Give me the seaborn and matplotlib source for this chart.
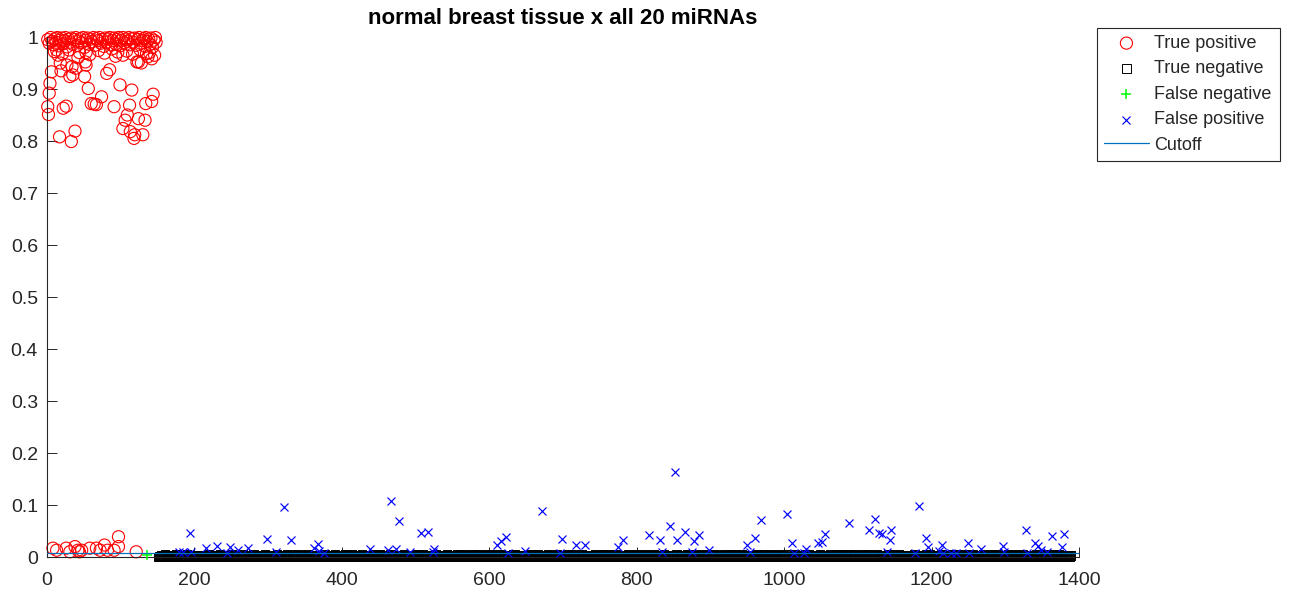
import numpy as np
import pandas as pd
import matplotlib
matplotlib.use("Agg")
import matplotlib.pyplot as plt
import seaborn as sns

# ---- chart text ----
title = "normal breast tissue x all 20 miRNAs"
legend_labels = ["True positive", "True negative", "False negative", "False positive", "Cutoff"]
x_ticks = [0, 200, 400, 600, 800, 1000, 1200, 1400]
y_ticks = [0, 0.1, 0.2, 0.3, 0.4, 0.5, 0.6, 0.7, 0.8, 0.9, 1.0]
y_tick_labels = ["0", "0.1", "0.2", "0.3", "0.4", "0.5", "0.6", "0.7", "0.8", "0.9", "1"]

# ---- true positives (positive samples, indices 1..150) ----
tp_idx = [
    # dense band near 1
    1, 3, 5, 7, 9, 11, 12, 14, 16, 18, 20, 22, 24, 25, 27, 29, 31, 33, 35, 37,
    39, 41, 43, 45, 47, 49, 51, 53, 55, 57, 59, 61, 63, 65, 67, 69, 71, 73, 75, 77,
    79, 81, 83, 85, 87, 89, 91, 93, 95, 97, 99, 101, 103, 105, 107, 109, 111, 113, 115, 117,
    119, 121, 123, 125, 127, 129, 131, 133, 134, 136, 138, 140, 141, 143, 145, 147, 148,
    10, 21, 30, 44, 58, 70, 78, 88, 96, 108, 116, 126, 139, 146,
    # scattered below the band
    6, 4, 3, 1, 2, 17, 33, 38, 22, 26, 19, 31, 35, 27, 39, 51, 56, 53, 60, 64,
    67, 74, 81, 85, 91, 99, 115, 112, 106, 109, 103, 113, 119, 124, 133, 130, 118, 134, 142, 144,
    124, 128, 137, 142, 103, 93, 42, 15, 13, 53, 34, 18, 52, 122, 135,
    # low-scoring positives above the cutoff
    8, 13, 26, 31, 38, 42, 44, 47, 58, 67, 72, 78, 82, 91, 97, 97, 121,
]
tp_score = [
    0.995, 0.988, 0.999, 0.992, 0.985, 0.997, 0.990, 0.999, 0.983, 0.994,
    0.998, 0.987, 0.993, 0.999, 0.981, 0.996, 0.990, 0.998, 0.986, 0.995,
    0.999, 0.984, 0.992, 0.997, 0.989, 0.999, 0.980, 0.994, 0.998, 0.986,
    0.996, 0.991, 0.999, 0.984, 0.997, 0.993, 0.999, 0.988, 0.995, 0.982,
    0.998, 0.990, 0.996, 0.999, 0.985, 0.993, 0.998, 0.987, 0.995, 0.999,
    0.983, 0.994, 0.999, 0.989, 0.996, 0.992, 0.999, 0.985, 0.997, 0.990,
    0.998, 0.984, 0.995, 0.999, 0.988, 0.993, 0.997, 0.982, 0.999, 0.991,
    0.996, 0.986, 0.998, 0.980, 0.994, 0.999, 0.990,
    0.972, 0.968, 0.975, 0.970, 0.966, 0.974, 0.969, 0.977, 0.971, 0.973,
    0.967, 0.976, 0.970, 0.965,
    0.933, 0.911, 0.892, 0.866, 0.851, 0.808, 0.799, 0.819, 0.863, 0.867,
    0.935, 0.924, 0.927, 0.946, 0.940, 0.924, 0.901, 0.946, 0.872, 0.871,
    0.870, 0.885, 0.930, 0.937, 0.866, 0.908, 0.898, 0.869, 0.840, 0.850,
    0.824, 0.818, 0.812, 0.843, 0.840, 0.812, 0.805, 0.872, 0.876, 0.890,
    0.952, 0.950, 0.962, 0.958, 0.965, 0.963, 0.960, 0.965, 0.975, 0.970,
    0.943, 0.950, 0.952, 0.952, 0.968,
    0.017, 0.013, 0.017, 0.010, 0.020, 0.013, 0.010, 0.013, 0.017, 0.017,
    0.013, 0.023, 0.013, 0.013, 0.039, 0.020, 0.010,
]

# ---- false negative ----
fn_idx = [135]
fn_score = [0.004]

# ---- false positives (negative samples scored above the cutoff) ----
fp_idx = [
    179, 185, 194, 196, 216, 231, 244, 248, 259, 272,
    299, 310, 321, 331, 362, 367, 369, 376, 438, 463,
    467, 474, 477, 493, 508, 517, 523, 525, 610, 616,
    622, 625, 648, 671, 696, 699, 718, 730, 774, 782,
    816, 832, 834, 845, 852, 855, 866, 875, 878, 884,
    898, 950, 954, 961, 968, 1004, 1010, 1013, 1027, 1030,
    1046, 1051, 1055, 1088, 1115, 1123, 1129, 1133, 1145, 1143,
    1140, 1178, 1183, 1192, 1195, 1210, 1214, 1216, 1226, 1233,
    1249, 1251, 1267, 1297, 1298, 1328, 1330, 1340, 1345, 1348,
    1357, 1364, 1377, 1380,
]
fp_score = [
    0.010, 0.010, 0.047, 0.010, 0.017, 0.021, 0.008, 0.019, 0.013, 0.017,
    0.034, 0.010, 0.096, 0.033, 0.017, 0.025, 0.012, 0.008, 0.015, 0.013,
    0.108, 0.015, 0.070, 0.010, 0.047, 0.049, 0.010, 0.015, 0.024, 0.031,
    0.039, 0.008, 0.012, 0.088, 0.008, 0.034, 0.024, 0.023, 0.020, 0.033,
    0.042, 0.033, 0.009, 0.060, 0.163, 0.033, 0.049, 0.009, 0.031, 0.042,
    0.013, 0.023, 0.010, 0.036, 0.072, 0.082, 0.026, 0.008, 0.008, 0.015,
    0.026, 0.028, 0.044, 0.065, 0.052, 0.074, 0.047, 0.044, 0.052, 0.033,
    0.009, 0.008, 0.099, 0.036, 0.020, 0.012, 0.024, 0.008, 0.008, 0.008,
    0.026, 0.008, 0.015, 0.022, 0.009, 0.052, 0.008, 0.026, 0.022, 0.013,
    0.010, 0.041, 0.020, 0.044,
]

# ---- true negatives: scores in thousandths, one digit per sample ----
tn_score_milli = "".join([
    "0120310245 0031201030 2104620130 2010310502 1030120301",
    "3201042103 0120530210 4010230162 0301240103 2051031020",
    "1030260130 2401031205 0210340120 3102051032 0140210306",
    "2013041020 3150201304 1020631024 0130210520 3014201032",
    "0410230150 1203402103 0251030142 0310260410 2030150213",
    "1402031052 0130240310 2061023014 0250130410 3021502031",
    "3010420130 5201340210 3104201602 1030520140 2013042051",
    "0240130310 2401520130 4102310260 1340210530 1024013052",
    "2031040250 1302140310 5201360120 4013052010 3240130215",
    "1050230140 2310420103 0261304210 3052010432 0130250413",
    "0320140520 1031024016 2030140253 1024031050 2130402103",
    "4010250130 2140310520 1360210403 1025014032 0310240162",
    "0130420315 0240130210 5301240130 2610240130 4205130210",
    "2041030152 0310240130 6201350210 4130250140 3021405301",
    "1030520140 2301402510 3140260130 2510340120 5302140310",
    "3120410250 1304201630 2140530210 3041025013 0240310520",
    "0210350140 2013042061 3025014032 1040210530 1304203150",
    "2140302510 3012406130 2150403120 5014032010 2630140215",
    "1032014052 0230140310 2501360214 0320510430 2103024013",
    "4120350130 2140310260 1503240120 3104205130 2410320150",
    "0310240153 1204301620 3105024013 2041035021 0340120530",
    "2013052014 0320140361 2031402510 3024013052 1040230140",
    "3105024013 0230150420 1360240130 5201402310 21403",
]).replace(" ", "")
negative_start = 151

cutoff = 0.007
cutoff_x = [0, 1400]

# ---- assemble tables ----
tn_score = [int(c) / 1000 for c in tn_score_milli]
n_negative = len(tn_score) + len(fp_idx)
negative_idx = np.arange(negative_start, negative_start + n_negative)
tn_idx = np.setdiff1d(negative_idx, fp_idx)[: len(tn_score)]

tp = pd.DataFrame({"sample": tp_idx, "score": tp_score})
tn = pd.DataFrame({"sample": tn_idx, "score": tn_score[: len(tn_idx)]})
fn = pd.DataFrame({"sample": fn_idx, "score": fn_score})
fp = pd.DataFrame({"sample": fp_idx, "score": fp_score})
cut = pd.DataFrame({"sample": cutoff_x, "score": [cutoff, cutoff]})

# ---- figure ----
sns.set_theme(style="white")
plt.rcParams["font.family"] = ["Liberation Sans", "DejaVu Sans"]

W, H = 1291, 597
fig = plt.figure(figsize=(W / 100, H / 100), dpi=100)
ax = fig.add_axes([47 / W, 40 / H, 1032 / W, 520 / H])

sns.scatterplot(data=tp, x="sample", y="score", marker="o", s=76,
                color="#FF0000", facecolor="none", edgecolor="#FF0000",
                linewidth=0.8, label=legend_labels[0], clip_on=False, ax=ax,
                legend=False, zorder=2)
sns.scatterplot(data=tn, x="sample", y="score", marker="s", s=37,
                color="black", facecolor="none", edgecolor="black",
                linewidth=0.7, label=legend_labels[1], clip_on=False, ax=ax,
                legend=False, zorder=2)
sns.scatterplot(data=fn, x="sample", y="score", marker="+", s=55,
                color="#00FF00", linewidth=1.1, label=legend_labels[2],
                clip_on=False, ax=ax, legend=False, zorder=3)
sns.scatterplot(data=fp, x="sample", y="score", marker="x", s=33,
                color="#0000FF", linewidth=0.85, label=legend_labels[3],
                clip_on=False, ax=ax, legend=False, zorder=3)
sns.lineplot(data=cut, x="sample", y="score", color="#0072BD", linewidth=0.9,
             label=legend_labels[4], ax=ax, legend=False, zorder=5)

ax.set_xlim(0, 1400)
ax.set_ylim(0, 1)
ax.set_xticks(x_ticks)
ax.set_xticklabels([str(t) for t in x_ticks])
ax.set_yticks(y_ticks)
ax.set_yticklabels(y_tick_labels)
ax.set_xlabel("")
ax.set_ylabel("")

sns.despine(ax=ax)
for side in ("left", "bottom"):
    ax.spines[side].set_color("#262626")
    ax.spines[side].set_linewidth(0.8)
ax.tick_params(axis="both", which="major", direction="in", length=7.2, width=0.7,
               colors="#262626", labelsize=14, left=True, bottom=True,
               top=False, right=False)
ax.tick_params(axis="x", pad=10.8)
ax.tick_params(axis="y", pad=6.5)

ax.set_title(title, fontsize=16, fontweight="bold", pad=9.4, color="black")

handles, labels = ax.get_legend_handles_labels()
leg_top = 1 - 28 / H
leg = ax.legend(handles, labels, loc="upper left",
                bbox_to_anchor=(1097 / W, 0.60, 183 / W, leg_top - 0.60),
                bbox_transform=fig.transFigure, mode="expand", borderaxespad=0,
                fancybox=False, framealpha=1, edgecolor="#262626", fontsize=13,
                handlelength=2.5, handletextpad=0.3, borderpad=0.38,
                labelspacing=0.47, scatterpoints=1)
leg.get_frame().set_linewidth(0.8)

fig.savefig("out.png", dpi=100)
